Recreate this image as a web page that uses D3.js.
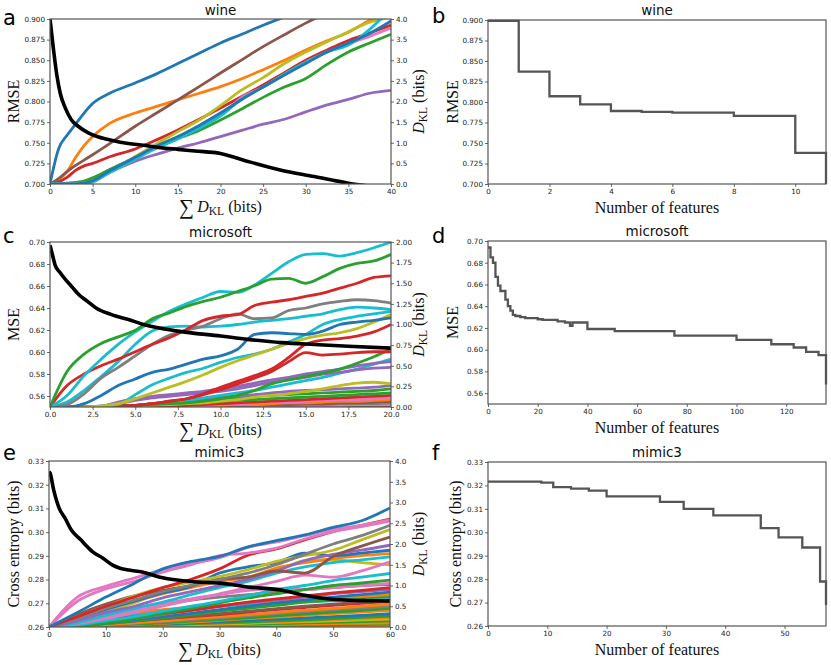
<!DOCTYPE html>
<html><head><meta charset="utf-8">
<script src="https://cdn.jsdelivr.net/npm/d3@7"></script>
<style>body{margin:0;background:#fff}</style>
</head><body>
<script>
// ---------------- DATA ----------------
// Panel a (wine): sum D_KL grid and per-feature D_KL curves (right axis), RMSE curve (left axis)
const wineGrid = [0,1,2,3,4,5,7,10,12.5,15,17.5,20,22.5,25,27.5,30,32.5,35,37.5,40];
const wineSeries = [
  [0,0.85,1.18,1.45,1.72,1.95,2.2,2.45,2.67,2.92,3.17,3.42,3.63,3.85,4.05,4.25,4.42,4.6,4.8,5.0],
  [0,0.1,0.3,0.64,0.93,1.15,1.47,1.72,1.88,2.04,2.2,2.36,2.55,2.77,3.0,3.25,3.47,3.68,3.97,4.2],
  [0,0,0.02,0.04,0.07,0.15,0.35,0.64,0.87,1.1,1.3,1.55,1.82,2.1,2.35,2.56,2.9,3.2,3.42,3.63],
  [0,0.05,0.16,0.33,0.44,0.5,0.66,0.85,1.07,1.31,1.57,1.84,2.12,2.4,2.7,3.0,3.25,3.48,3.66,3.85],
  [0,0,0,0.01,0.02,0.08,0.28,0.55,0.72,0.87,1.0,1.15,1.3,1.45,1.57,1.75,1.92,2.05,2.2,2.27],
  [0,0.13,0.3,0.45,0.58,0.71,0.98,1.4,1.72,2.04,2.36,2.69,3.01,3.33,3.62,3.9,4.15,4.4,4.7,5.0],
  [0,0,0,0,0.01,0.05,0.3,0.62,0.88,1.12,1.37,1.65,2.1,2.35,2.65,2.95,3.2,3.4,3.58,3.78],
  [0,0,0,0.01,0.02,0.05,0.3,0.67,0.97,1.27,1.55,1.9,2.28,2.58,2.92,3.2,3.45,3.69,3.92,4.05],
  [0,0,0,0,0,0.05,0.28,0.6,0.87,1.1,1.35,1.65,2.06,2.35,2.67,2.95,3.2,3.37,3.75,4.25],
  [0,0,0,0,0.02,0.08,0.32,0.65,0.92,1.15,1.42,1.72,2.05,2.35,2.64,2.92,3.2,3.42,3.65,3.95]
];
const wineColors = ['blue','orange','green','red','purple','brown','pink','olive','cyan','blue'];
const wineLossX = [0,0.4,0.8,1.2,1.8,2.5,3.3,4.5,5.7,7.2,9.2,11,13,15,17,20,23,27,31,35,37,40];
const wineLoss  = [0.900,0.864,0.832,0.810,0.792,0.778,0.770,0.762,0.757,0.753,0.749,0.747,0.744,0.742,0.740,0.737,0.728,0.717,0.709,0.701,0.698,0.694];
// Panel b (wine): RMSE vs number of features
const wineFeatX = [0,1,2,3,4,5,6,8,10,11];
const wineFeatY = [0.899,0.837,0.807,0.797,0.789,0.788,0.787,0.783,0.738,0.700];

// Panel c (microsoft)
const msGrid = [0,1,2,3,4,5,6,7,8,9,10,11,12,13,14,15,16,17,18,19,20];
const msSeries = [
  [0,0,0,0,0,0,0,0,0,0,0,0,0,0,0,0,0,0,0,0,0],
  [0,0,0,0,0,0,0,0,0,0,0.01,0.01,0.01,0.01,0.02,0.02,0.02,0.03,0.03,0.03,0.04],
  [0,0,0,0,0,0,0,0,0,0.01,0.01,0.01,0.01,0.01,0.02,0.02,0.02,0.02,0.03,0.03,0.03],
  [0,0,0,0,0,0,0,0,0,0.01,0.01,0.01,0.02,0.02,0.02,0.03,0.03,0.04,0.04,0.04,0.05],
  [0,0,0,0,0,0,0,0,0.01,0.01,0.01,0.02,0.02,0.03,0.03,0.04,0.04,0.05,0.05,0.06,0.07],
  [0,0,0,0,0,0,0,0.01,0.01,0.02,0.02,0.03,0.03,0.04,0.05,0.05,0.06,0.07,0.07,0.08,0.09],
  [0,0,0,0,0,0,0.01,0.01,0.02,0.02,0.03,0.04,0.05,0.06,0.06,0.07,0.08,0.09,0.09,0.10,0.11],
  [0,0,0,0,0,0,0.01,0.01,0.02,0.03,0.04,0.05,0.06,0.07,0.08,0.09,0.10,0.11,0.12,0.13,0.14],
  [0,0,0,0,0,0.01,0.02,0.03,0.04,0.06,0.07,0.08,0.09,0.10,0.11,0.12,0.13,0.14,0.15,0.16,0.17],
  [0,0,0,0,0.01,0.02,0.04,0.05,0.07,0.08,0.10,0.11,0.13,0.14,0.15,0.16,0.17,0.18,0.19,0.20,0.22],
  [0,0,0,0,0.01,0.02,0.04,0.06,0.08,0.10,0.12,0.13,0.15,0.17,0.19,0.20,0.21,0.22,0.23,0.24,0.26],
  [0,0,0,0,0,0.01,0.02,0.03,0.04,0.05,0.07,0.09,0.12,0.14,0.16,0.19,0.22,0.26,0.29,0.30,0.28],
  [0,0,0,0,0.01,0.02,0.04,0.06,0.08,0.11,0.14,0.17,0.20,0.24,0.28,0.32,0.36,0.41,0.46,0.52,0.58],
  [0,0,0,0.01,0.04,0.08,0.11,0.13,0.15,0.17,0.19,0.22,0.26,0.30,0.33,0.36,0.40,0.42,0.45,0.47,0.48],
  [0,0,0,0.01,0.06,0.10,0.13,0.15,0.17,0.19,0.22,0.25,0.29,0.33,0.36,0.40,0.43,0.46,0.50,0.53,0.55],
  [0,0,0,0,0.01,0.02,0.03,0.04,0.05,0.07,0.10,0.14,0.20,0.28,0.33,0.37,0.41,0.46,0.53,0.61,0.70],
  [0,0,0,0,0.01,0.02,0.04,0.07,0.10,0.15,0.21,0.28,0.35,0.43,0.55,0.66,0.63,0.64,0.66,0.67,0.67],
  [0,0,0,0,0.01,0.02,0.04,0.07,0.10,0.16,0.24,0.31,0.38,0.46,0.60,0.76,0.81,0.83,0.86,0.91,1.0],
  [0,0,0,0.01,0.03,0.15,0.27,0.35,0.42,0.47,0.54,0.60,0.64,0.70,0.79,0.88,1.00,1.06,1.10,1.13,1.16],
  [0,0,0,0.01,0.04,0.10,0.17,0.24,0.31,0.39,0.48,0.56,0.63,0.70,0.77,0.83,0.87,0.90,0.95,1.03,1.12],
  [0,0,0.04,0.14,0.26,0.34,0.42,0.46,0.52,0.58,0.62,0.70,0.88,0.90,0.89,0.88,0.92,1.00,1.03,1.05,1.08],
  [0,0.06,0.20,0.37,0.55,0.76,0.92,0.97,0.98,0.97,0.98,1.00,1.03,1.05,1.07,1.10,1.13,1.18,1.21,1.20,1.18],
  [0,0.03,0.16,0.35,0.48,0.62,0.76,0.87,0.93,0.98,1.07,1.13,1.07,1.08,1.17,1.20,1.25,1.28,1.30,1.29,1.26],
  [0,0.26,0.40,0.50,0.58,0.67,0.76,0.84,0.94,1.05,1.10,1.12,1.23,1.27,1.30,1.34,1.38,1.44,1.50,1.57,1.59],
  [0,0.14,0.38,0.58,0.76,0.91,1.04,1.16,1.25,1.33,1.40,1.39,1.48,1.62,1.76,1.85,1.86,1.83,1.87,1.93,2.0],
  [0,0.43,0.64,0.77,0.85,0.93,1.07,1.14,1.22,1.28,1.33,1.40,1.47,1.55,1.56,1.50,1.58,1.68,1.74,1.77,1.85]
];
const msColors = ['brown','blue','pink','gray','brown','orange','pink','red','green','green','purple','olive','cyan','purple','purple','green','red','red','cyan','olive','blue','cyan','gray','red','cyan','green'];
const msLossX = [0,0.15,0.3,0.6,0.9,1.3,1.7,2.2,2.7,3.6,4.6,5.6,7.5,10,11.6,13.6,15.5,17.5,20];
const msLoss  = [0.697,0.688,0.679,0.672,0.666,0.659,0.652,0.646,0.640,0.634,0.6295,0.6245,0.619,0.6145,0.6115,0.6085,0.6068,0.6052,0.6035];
// Panel d (microsoft)
const msFeatX = [0,1,2,3,4,5,7,8,9,10,11,13,15,20,22,28,31,33,34,40,51,75,100,114,123,128,133,136];
const msFeatY = [0.694,0.685,0.680,0.667,0.659,0.654,0.646,0.640,0.636,0.632,0.631,0.630,0.629,0.628,0.6275,0.626,0.625,0.622,0.625,0.619,0.617,0.613,0.609,0.605,0.602,0.598,0.595,0.568];

// Panel e (mimic3)
const mimicGrid = [0,5,10,15,20,25,30,35,40,45,50,55,60];
const mimicSeries = [
  [0,0,0,0,0.01,0.01,0.01,0.02,0.02,0.02,0.03,0.03,0.04],
  [0,0,0,0.01,0.01,0.02,0.02,0.03,0.04,0.04,0.05,0.06,0.07],
  [0,0,0.01,0.01,0.02,0.03,0.04,0.05,0.06,0.07,0.08,0.09,0.10],
  [0,0,0.01,0.02,0.03,0.04,0.05,0.07,0.08,0.10,0.11,0.13,0.15],
  [0,0,0.01,0.02,0.04,0.05,0.07,0.09,0.11,0.13,0.15,0.17,0.19],
  [0,0.01,0.02,0.03,0.05,0.07,0.09,0.11,0.13,0.15,0.18,0.20,0.23],
  [0,0.01,0.02,0.04,0.06,0.08,0.10,0.12,0.15,0.17,0.20,0.23,0.26],
  [0,0.01,0.03,0.05,0.08,0.10,0.13,0.16,0.19,0.22,0.25,0.28,0.32],
  [0,0.01,0.03,0.06,0.09,0.12,0.16,0.20,0.24,0.28,0.32,0.36,0.40],
  [0,0.02,0.06,0.10,0.14,0.18,0.22,0.25,0.30,0.34,0.38,0.42,0.46],
  [0,0.01,0.04,0.07,0.10,0.14,0.18,0.22,0.27,0.31,0.36,0.40,0.45],
  [0,0.02,0.05,0.09,0.13,0.17,0.22,0.27,0.32,0.37,0.42,0.46,0.50],
  [0,0.02,0.06,0.10,0.15,0.20,0.25,0.30,0.35,0.40,0.45,0.50,0.55],
  [0,0.03,0.10,0.15,0.20,0.25,0.30,0.36,0.42,0.47,0.52,0.57,0.62],
  [0,0.03,0.08,0.14,0.20,0.26,0.32,0.38,0.44,0.50,0.55,0.60,0.65],
  [0,0.05,0.20,0.30,0.38,0.45,0.50,0.55,0.58,0.60,0.63,0.66,0.70],
  [0,0.02,0.08,0.15,0.22,0.30,0.38,0.45,0.52,0.60,0.65,0.70,0.74],
  [0,0.10,0.25,0.35,0.42,0.48,0.52,0.58,0.62,0.66,0.70,0.74,0.78],
  [0,0.04,0.10,0.18,0.25,0.33,0.42,0.50,0.58,0.65,0.72,0.78,0.84],
  [0,0.05,0.12,0.20,0.30,0.40,0.50,0.58,0.65,0.72,0.80,0.85,0.90],
  [0,0.05,0.15,0.25,0.32,0.40,0.50,0.60,0.68,0.75,0.82,0.88,0.95],
  [0,0.12,0.30,0.45,0.55,0.65,0.72,0.78,0.85,0.90,0.95,1.00,1.02],
  [0,0.10,0.25,0.40,0.55,0.68,0.78,0.88,0.92,0.90,0.95,1.00,1.05],
  [0,0.03,0.10,0.20,0.32,0.45,0.58,0.70,0.80,0.90,1.00,1.06,1.13],
  [0,0.05,0.15,0.25,0.38,0.50,0.62,0.75,0.90,1.00,1.12,1.20,1.29],
  [0,0.15,0.35,0.58,0.85,1.00,1.15,1.20,1.35,1.60,1.62,1.55,1.50],
  [0,0.08,0.20,0.35,0.50,0.65,0.80,0.95,1.10,1.25,1.20,1.35,1.57],
  [0,0.10,0.28,0.45,0.60,0.78,0.95,1.10,1.30,1.45,1.55,1.62,1.69],
  [0,0.22,0.45,0.62,0.80,0.95,1.10,1.20,1.42,1.55,1.65,1.72,1.77],
  [0,0.20,0.42,0.62,0.82,0.98,1.30,1.45,1.55,1.78,1.72,1.78,1.85],
  [0,0.15,0.35,0.50,0.70,0.85,1.00,1.15,1.35,1.60,1.75,1.85,1.97],
  [0,0.30,0.55,0.75,0.88,1.00,1.15,1.20,1.35,1.30,1.70,1.95,2.17],
  [0,0.25,0.50,0.75,0.95,1.08,1.22,1.38,1.58,1.72,1.85,2.10,2.35],
  [0,0.20,0.45,0.65,0.85,1.00,1.15,1.30,1.50,1.75,2.00,2.20,2.45],
  [0,0.25,0.50,0.72,0.95,1.15,1.40,1.73,1.88,2.10,2.30,2.45,2.60],
  [0,0.62,0.92,1.10,1.32,1.50,1.72,1.78,1.90,2.12,2.30,2.42,2.55],
  [0,0.72,0.98,1.18,1.38,1.52,1.67,1.92,2.05,2.20,2.35,2.45,2.58],
  [0,0.35,0.72,1.05,1.40,1.58,1.70,1.93,2.08,2.22,2.40,2.56,2.87]
];
const mimicColors = ['orange','green','orange','green','olive','orange','green','blue','orange','purple','green','gray','orange','red','brown','cyan','green','orange','blue','purple','red','gray','pink','green','cyan','olive','pink','cyan','orange','blue','purple','brown','olive','gray','red','pink','pink','blue'];
const mimicLossX = [0,0.2,0.8,1.8,2.8,3.9,5.5,7.7,9.5,11.2,12.5,14.1,16.4,19.35,22.9,26,30,35,41,45,48.6,52.7,56,60];
const mimicLoss  = [0.3255,0.3248,0.318,0.310,0.306,0.301,0.297,0.2917,0.289,0.2861,0.2848,0.284,0.2832,0.2811,0.2797,0.279,0.2785,0.2769,0.2755,0.2734,0.272,0.2713,0.2711,0.271];
// Panel f (mimic3)
const mimicFeatX = [0,9,11,14,17,20,29,33,38,46,49,53,56,57];
const mimicFeatY = [0.3216,0.3212,0.3193,0.3186,0.3178,0.3153,0.3130,0.3100,0.3072,0.3018,0.2978,0.2935,0.2790,0.2690];

// Tick values
const wineXTicks = [0,5,10,15,20,25,30,35,40];
const wineYTicks = [0.700,0.725,0.750,0.775,0.800,0.825,0.850,0.875,0.900];
const dklTicks4 = [0,0.5,1,1.5,2,2.5,3,3.5,4];
const msXTicks = [0,2.5,5,7.5,10,12.5,15,17.5,20];
const msYTicks = [0.56,0.58,0.60,0.62,0.64,0.66,0.68,0.70];
const dklTicks2 = [0,0.25,0.5,0.75,1,1.25,1.5,1.75,2];
const mimicXTicks = [0,10,20,30,40,50,60];
const mimicYTicks = [0.26,0.27,0.28,0.29,0.30,0.31,0.32,0.33];
const wineFeatTicks = [0,2,4,6,8,10];
const msFeatTicks = [0,20,40,60,80,100,120];
const mimicFeatTicks = [0,10,20,30,40,50];

// ---------------- DRAWING ----------------
const palette = {blue:'#1f77b4',orange:'#ff7f0e',green:'#2ca02c',red:'#d62728',purple:'#9467bd',
  brown:'#8c564b',pink:'#e377c2',gray:'#7f7f7f',olive:'#bcbd22',cyan:'#17becf'};
const SANS = "'DejaVu Sans', sans-serif";
const SERIF = "'Liberation Serif', 'DejaVu Serif', serif";
const svg = d3.select('body').append('svg').attr('width',831).attr('height',665);
let clipId = 0;

function styleAxis(g, fs) {
  g.select('.domain').remove();
  g.selectAll('.tick line').attr('stroke','#444').attr('stroke-width',0.8);
  g.selectAll('.tick text').attr('font-family',SANS).attr('font-size',fs).attr('fill','#222');
}
function frame(box) {
  svg.append('rect').attr('x',box.x0).attr('y',box.y0).attr('width',box.x1-box.x0).attr('height',box.y1-box.y0)
    .attr('fill','none').attr('stroke','#555').attr('stroke-width',1.2);
}
function clip(box, pad) {
  const id = 'clip'+(clipId++);
  svg.append('clipPath').attr('id',id).append('rect')
    .attr('x',box.x0).attr('y',box.y0-pad).attr('width',box.x1-box.x0+pad).attr('height',box.y1-box.y0+pad);
  return 'url(#'+id+')';
}
function titleAndLabel(box, title, letter, ty, ly) {
  svg.append('text').attr('x',(box.x0+box.x1)/2).attr('y',ty).attr('text-anchor','middle')
    .attr('font-family',SANS).attr('font-size',13.5).attr('fill','#111').text(title);
  svg.append('text').attr('x',box.x0<100?3:432).attr('y',ly)
    .attr('font-family',SANS).attr('font-size',21).attr('fill','#000').text(letter);
}
function yLabel(x, y, txt) {
  svg.append('text').attr('transform',`translate(${x},${y}) rotate(-90)`).attr('text-anchor','middle')
    .attr('font-family',SERIF).attr('font-size',16).attr('fill','#111').text(txt);
}
function dklLabel(x, y) {
  const t = svg.append('text').attr('transform',`translate(${x},${y}) rotate(-90)`).attr('text-anchor','middle')
    .attr('font-family',SERIF).attr('font-size',16).attr('fill','#111');
  t.append('tspan').attr('font-style','italic').text('D');
  t.append('tspan').attr('font-size',11.5).attr('dy',3).text('KL');
  t.append('tspan').attr('dy',-3).text(' (bits)');
}
function sumLabel(x, y) {
  const t = svg.append('text').attr('x',x).attr('y',y).attr('text-anchor','middle')
    .attr('font-family',SERIF).attr('font-size',16).attr('fill','#111');
  t.append('tspan').attr('font-size',21).attr('dy',2).text('\u2211');
  t.append('tspan').attr('font-style','italic').attr('dy',-2).text('\u2009D');
  t.append('tspan').attr('font-size',11.5).attr('dy',3).text('KL');
  t.append('tspan').attr('dy',-3).text(' (bits)');
}

function dklPanel(o) {
  const b = o.box;
  const x = d3.scaleLinear().domain(o.xDom).range([b.x0,b.x1]);
  const yl = d3.scaleLinear().domain(o.ylDom).range([b.y1,b.y0]);
  const yr = d3.scaleLinear().domain(o.yrDom).range([b.y1,b.y0]);
  const cp = clip(b, 0);
  const lg = svg.append('g').attr('clip-path',cp);
  const lineR = d3.line().x((d,i)=>x(o.grid[i])).y(d=>yr(d)).curve(d3.curveMonotoneX);
  o.series.forEach((s,i)=>{
    lg.append('path').attr('d',lineR(s)).attr('fill','none')
      .attr('stroke',palette[o.colors[i]]).attr('stroke-width',2.8).attr('stroke-linejoin','round');
  });
  const lineL = d3.line().x((d,i)=>x(o.lossX[i])).y(d=>yl(d)).curve(d3.curveMonotoneX);
  lg.append('path').attr('d',lineL(o.loss)).attr('fill','none').attr('stroke','#000').attr('stroke-width',3.6);
  frame(b);
  const fs = 7.2;
  const ax = svg.append('g').attr('transform',`translate(0,${b.y1})`)
    .call(d3.axisBottom(x).tickValues(o.xTicks).tickFormat(d3.format(o.xFmt)).tickSize(3).tickPadding(2));
  styleAxis(ax, fs);
  const al = svg.append('g').attr('transform',`translate(${b.x0},0)`)
    .call(d3.axisLeft(yl).tickValues(o.ylTicks).tickFormat(d3.format(o.ylFmt)).tickSize(3).tickPadding(2));
  styleAxis(al, fs);
  const ar = svg.append('g').attr('transform',`translate(${b.x1},0)`)
    .call(d3.axisRight(yr).tickValues(o.yrTicks).tickFormat(d3.format(o.yrFmt)).tickSize(3).tickPadding(2));
  styleAxis(ar, fs);
  titleAndLabel(b, o.title, o.letter, o.ty, o.ly);
  yLabel(19, (b.y0+b.y1)/2, o.ylab);
  dklLabel(424, (b.y0+b.y1)/2);
  sumLabel((b.x0+b.x1)/2, b.y1+28);
}

function featPanel(o) {
  const b = o.box;
  const x = d3.scaleLinear().domain(o.xDom).range([b.x0,b.x1]);
  const y = d3.scaleLinear().domain(o.yDom).range([b.y1,b.y0]);
  const cp = clip(b, 3);
  const line = d3.line().x((d,i)=>x(o.fx[i])).y(d=>y(d)).curve(d3.curveStepAfter);
  svg.append('g').attr('clip-path',cp).append('path').attr('d',line(o.fy))
    .attr('fill','none').attr('stroke','#555').attr('stroke-width',2.3);
  frame(b);
  const fs = 7.2;
  const ax = svg.append('g').attr('transform',`translate(0,${b.y1})`)
    .call(d3.axisBottom(x).tickValues(o.xTicks).tickFormat(d3.format('d')).tickSize(3).tickPadding(2));
  styleAxis(ax, fs);
  const al = svg.append('g').attr('transform',`translate(${b.x0},0)`)
    .call(d3.axisLeft(y).tickValues(o.yTicks).tickFormat(d3.format(o.yFmt)).tickSize(3).tickPadding(2));
  styleAxis(al, fs);
  titleAndLabel(b, o.title, o.letter, o.ty, o.ly);
  yLabel(o.ylx, (b.y0+b.y1)/2, o.ylab);
  svg.append('text').attr('x',(b.x0+b.x1)/2).attr('y',b.y1+29).attr('text-anchor','middle')
    .attr('font-family',SERIF).attr('font-size',16).attr('fill','#111').text('Number of features');
}

dklPanel({box:{x0:50,x1:391,y0:19,y1:184}, xDom:[0,40], ylDom:[0.7,0.9], yrDom:[0,4],
  grid:wineGrid, series:wineSeries, colors:wineColors, lossX:wineLossX, loss:wineLoss,
  xTicks:wineXTicks, xFmt:'d', ylTicks:wineYTicks, ylFmt:'.3f', yrTicks:dklTicks4, yrFmt:'.1f',
  title:'wine', letter:'a', ty:15, ly:25, ylab:'RMSE'});
featPanel({box:{x0:488,x1:826,y0:20,y1:184}, xDom:[0,11], yDom:[0.7,0.9], fx:wineFeatX, fy:wineFeatY,
  xTicks:wineFeatTicks, yTicks:wineYTicks, yFmt:'.3f', title:'wine', letter:'b', ty:15, ly:23, ylab:'RMSE', ylx:458});

dklPanel({box:{x0:50,x1:391,y0:242,y1:407}, xDom:[0,20], ylDom:[0.55,0.70], yrDom:[0,2],
  grid:msGrid, series:msSeries, colors:msColors, lossX:msLossX, loss:msLoss,
  xTicks:msXTicks, xFmt:'.1f', ylTicks:msYTicks, ylFmt:'.2f', yrTicks:dklTicks2, yrFmt:'.2f',
  title:'microsoft', letter:'c', ty:237, ly:243, ylab:'MSE'});
featPanel({box:{x0:488,x1:826,y0:241,y1:404}, xDom:[0,136], yDom:[0.55,0.70], fx:msFeatX, fy:msFeatY,
  xTicks:msFeatTicks, yTicks:msYTicks, yFmt:'.2f', title:'microsoft', letter:'d', ty:236, ly:243, ylab:'MSE', ylx:458});

dklPanel({box:{x0:49,x1:390,y0:461,y1:627}, xDom:[0,60], ylDom:[0.26,0.33], yrDom:[0,4],
  grid:mimicGrid, series:mimicSeries, colors:mimicColors, lossX:mimicLossX, loss:mimicLoss,
  xTicks:mimicXTicks, xFmt:'d', ylTicks:mimicYTicks, ylFmt:'.2f', yrTicks:dklTicks4, yrFmt:'.1f',
  title:'mimic3', letter:'e', ty:457, ly:460, ylab:'Cross entropy (bits)'});
featPanel({box:{x0:488,x1:826,y0:462,y1:626}, xDom:[0,57], yDom:[0.26,0.33], fx:mimicFeatX, fy:mimicFeatY,
  xTicks:mimicFeatTicks, yTicks:mimicYTicks, yFmt:'.2f', title:'mimic3', letter:'f', ty:457, ly:460, ylab:'Cross entropy (bits)', ylx:461});
</script>
</body></html>
